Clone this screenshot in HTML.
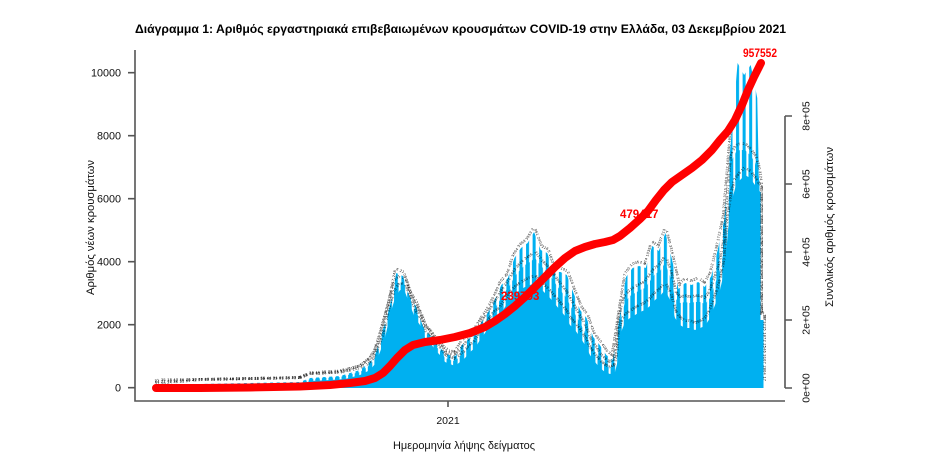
<!DOCTYPE html>
<html><head><meta charset="utf-8">
<style>
html,body{margin:0;padding:0;background:#fff;width:937px;height:470px;overflow:hidden}
svg{display:block}
text{font-family:"Liberation Sans","DejaVu Sans",sans-serif}
</style></head>
<body>
<svg width="937" height="470" viewBox="0 0 937 470" xmlns="http://www.w3.org/2000/svg">
<defs>
<pattern id="stH" patternUnits="userSpaceOnUse" x="624.5" y="0" width="6.5625" height="470"><rect x="0" y="0" width="3" height="470" fill="#00b0f0"/></pattern>
<pattern id="stM" patternUnits="userSpaceOnUse" x="623.75" y="0" width="6.5625" height="470"><rect x="0" y="0" width="4.5" height="470" fill="#00b0f0"/></pattern>
<path id="pH" d="M155,388 L200,384 L300,382 L310,378 L340,376 L360,370 L370,362 L375,355 L380,340 L387,315 L390,305 L396.3,273 L402.9,276 L409.4,296 L416,306 L422.6,326 L429.1,334 L435.7,342 L442.25,350 L448.8,355 L455.4,356 L461.9,345 L468.5,339 L475.1,333 L481.6,322 L488.2,312 L494.75,300 L501.3,285 L507.9,278 L514.4,258 L521,248 L527.6,243 L534.1,232 L540.7,250 L547.25,253 L553.8,272 L560.4,272 L566.9,275 L573.5,293 L580.1,310 L586.6,318 L593.2,337 L599.75,345 L606.3,355 L612.9,360 L619.4,318 L626,277 L632.6,268 L639.1,266 L645.7,268 L652.25,246 L658.8,251 L665.4,233 L671.9,259 L678.5,289 L685.1,283 L691.6,285 L698.2,282 L704.75,287 L711.3,276 L717.9,249 L724.4,219 L731,140 L737.6,63 L744.1,75 L750.7,65 L757.25,98 L759,185 L760.5,190 L760.5,320 L763.5,320 L763.5,388"/>
<path id="pM" d="M155,388 L200,385.5 L300,383.5 L310,379 L340,377 L360,372 L370,365 L375,358 L380,346 L385,325 L390,306 L395,286 L400,282 L405,285 L410,299 L415,312 L420,318 L425,332 L430,337 L435,346 L440,350 L445,358 L450,360 L455,361 L460,356 L465,350 L470,344 L475,339 L480,331 L485,323 L490,316 L495,308 L500,300 L505,292 L510,285 L515,276 L520,270 L525,265 L530,262 L535,258 L540,265 L545,270 L550,275 L555,283 L560,290 L565,296 L570,305 L575,314 L580,323 L585,332 L590,345 L595,352 L600,360 L605,365 L610,368 L615,365 L618,345 L620,322 L625,302 L630,296 L635,293 L640,290 L645,288 L650,281 L655,274 L660,271 L665,263 L670,276 L675,298 L680,303 L685,302 L690,303 L695,302 L700,302 L705,304 L710,298 L715,284 L720,270 L725,245 L728,205 L732,160 L736,152 L740,150 L745,150 L750,155 L755,162 L758,172 L760.5,188 L760.5,320 L763.5,320 L763.5,388"/>
<path id="pL" d="M155,388 L160,387 L200,386.5 L250,386 L300,385 L310,381 L330,380 L345,379 L360,375 L370,370 L375,364 L380,352 L385,338 L390,315 L395,298 L400,290 L405,292 L410,305 L415,318 L420,325 L425,338 L430,342 L435,350 L440,355 L445,362 L450,364 L455,366 L460,362 L465,358 L470,352 L475,348 L480,340 L485,333 L490,325 L495,318 L500,315 L505,307 L510,300 L515,294 L520,290 L525,287 L530,285 L535,283 L540,288 L545,293 L550,298 L555,304 L560,310 L565,316 L570,325 L575,330 L580,337 L585,345 L590,355 L595,362 L600,368 L605,372 L610,374 L615,372 L618,360 L620,335 L625,322 L630,318 L635,315 L640,312 L645,310 L650,306 L655,300 L660,296 L665,290 L670,300 L675,318 L680,325 L685,328 L690,328 L695,330 L700,328 L705,326 L710,318 L715,305 L720,290 L725,268 L728,230 L732,200 L736,185 L740,180 L745,175 L750,178 L755,185 L758,190 L760.5,192 L760.5,320 L763.5,320 L763.5,388"/>
</defs>

<rect x="0" y="0" width="937" height="470" fill="#fff"/>

<!-- Title -->
<text x="135" y="33" font-size="12" font-weight="bold" fill="#000" textLength="651" lengthAdjust="spacingAndGlyphs">Διάγραμμα 1: Αριθμός εργαστηριακά επιβεβαιωμένων κρουσμάτων COVID-19 στην Ελλάδα, 03 Δεκεμβρίου 2021</text>

<!-- Bars -->
<use href="#pH" fill="url(#stH)"/>
<use href="#pM" fill="url(#stM)"/>
<use href="#pL" fill="#00b0f0"/>

<!-- tiny data labels -->
<g font-size="3.6" fill="#000" letter-spacing="0.4">
<text transform="translate(0,-6)"><textPath href="#pL">21 35 18 42 56 29 33 61 47 25 38 52 44 19 27 66 31 58 40 23 49 35 71 28 54 37 62 26 43 59 32 48 151 97 118 203 164 139 226 187 245 212 158 273 236 298 264 311 287 342 1521 2061 1979 2260 1817 2473 3042 2715 1684 2390 2938 3215 1872 2546 3107 2804 1753 2419 3382 2967 1905 2631 3054 2288 1736 2890 3463 2152 1847 2705 3119 2436 1698 2573 3290 2041 1926 2817 3348 2507 1779 2662 3175 2314 1858 2749 3406 2093 1961 2586 3231 2470 1802 2938 3097 2265 1713 2654 3372 2189 1521 2061 1979 2260 1817 2473 3042 2715 1684 2390 2938 3215 1872 2546 3107 2804 1753 2419 3382 2967 1905 2631 3054 2288 1736 2890 3463 2152 1847 2705 3119 2436</textPath></text>
<text transform="translate(0,-5)"><textPath href="#pM">64 27 39 52 18 45 33 70 26 41 57 30 49 22 36 63 28 55 44 31 67 24 50 38 59 29 46 35 72 21 53 40 184 126 207 149 231 172 258 196 283 219 306 245 331 268 1633 2208 1894 2377 2945 2561 1760 3124 2483 1919 2702 3331 2046 1785 2856 3198 2371 1943 2624 3455 2117 1830 2768 3062 2495 1679 2913 3287 2236 1991 2540 3149 2402 1726 2839 3376 2081 1867 2683 3214 2449 1754 2975 3318 2160 1902 2597 3043 2523 1818 2726 3481 2207 1945 2651 3256 2388 1632 2884 3139 2271 1633 2208 1894 2377 2945 2561 1760 3124 2483 1919 2702 3331 2046 1785 2856 3198 2371 1943 2624 3455 2117</textPath></text>
<text transform="translate(0,-3)"><textPath href="#pH">37 58 24 46 31 69 42 27 53 36 61 20 48 34 57 26 44 39 65 23 51 30 47 62 28 56 41 33 68 25 139 211 175 246 192 268 223 297 254 318 3600 3316 2917 2486 2109 1794 1523 1285 1046 912 1153 1387 1712 1988 2340 2783 3215 3480 4112 4430 4590 4952 4340 4251 3664 3659 3553 2961 2403 2165 1633 1388 1012 3520 3815 3880 3820 4500 4340 4910 4080 3130 3308 3245 3340 3180 3508 4400 5350 7700 10352 9974 10358 9271 6557 2134 3600 3316 2917 2486 2109 1794 1523 1285 1046 912 1153 1387 1712 1988 2340 2783 3215 3480 4112 4430 4590 4952</textPath></text>
</g>

<!-- red labels (under line) -->
<text x="501" y="300" font-size="11.5" font-weight="bold" fill="#ff0000">239793</text>
<text x="620" y="218" font-size="11.5" font-weight="bold" fill="#ff0000">479417</text>

<!-- cumulative line -->
<polyline fill="none" stroke="#ff0000" stroke-width="8" stroke-linecap="round" stroke-linejoin="round" points="156,388 200,388 250,387.5 300,386.5 330,385 350,383 365,381 375,378 383,373 390,366 397,358 405,350 413,345 425,342 440,340 455,337 470,333 485,327 495,321 505,314 515,306 525,297 535,287 545,277 555,267 565,258 575,251 585,247 595,244 605,242 613,240 620,236 630,228 640,219 648,211 656,200 664,190 672,182 682,175 692,168 702,160 712,150 720,140 728,131 735,120 742,105 748,90 754,77 761,63"/>

<text x="743" y="57" font-size="12" font-weight="bold" fill="#ff0000" textLength="34" lengthAdjust="spacingAndGlyphs">957552</text>

<!-- Axes -->
<g stroke="#555" stroke-width="1.6" fill="none">
<path d="M135,50 V401 H785"/>
<path d="M128,72.7 H135 M128,135.7 H135 M128,198.7 H135 M128,261.7 H135 M128,324.7 H135 M128,387.7 H135"/>
<path d="M448,401 V407"/>
<path d="M785,116 V388 M785,116 H792 M785,184 H792 M785,252 H792 M785,320 H792 M785,388 H792"/>
</g>

<!-- Left tick labels -->
<g font-size="10.8" fill="#111" text-anchor="end">
<text x="121" y="76.6">10000</text>
<text x="121" y="139.6">8000</text>
<text x="121" y="202.6">6000</text>
<text x="121" y="265.6">4000</text>
<text x="121" y="328.6">2000</text>
<text x="121" y="391.6">0</text>
</g>

<!-- Right tick labels (rotated) -->
<g font-size="10.5" fill="#111" text-anchor="middle">
<text transform="translate(809.5,116) rotate(-90)">8e+05</text>
<text transform="translate(809.5,184) rotate(-90)">6e+05</text>
<text transform="translate(809.5,252) rotate(-90)">4e+05</text>
<text transform="translate(809.5,320) rotate(-90)">2e+05</text>
<text transform="translate(809.5,388) rotate(-90)">0e+00</text>
</g>

<!-- X tick label -->
<text x="448" y="424" font-size="10.5" fill="#111" text-anchor="middle">2021</text>

<!-- Axis titles -->
<text x="393" y="449" font-size="11" fill="#111" textLength="142" lengthAdjust="spacingAndGlyphs">Ημερομηνία λήψης δείγματος</text>
<text transform="translate(94,295) rotate(-90)" font-size="11" fill="#111" textLength="135" lengthAdjust="spacingAndGlyphs">Αριθμός νέων κρουσμάτων</text>
<text transform="translate(833,307) rotate(-90)" font-size="11" fill="#111" textLength="160" lengthAdjust="spacingAndGlyphs">Συνολικός αριθμός κρουσμάτων</text>
</svg>
</body></html>
